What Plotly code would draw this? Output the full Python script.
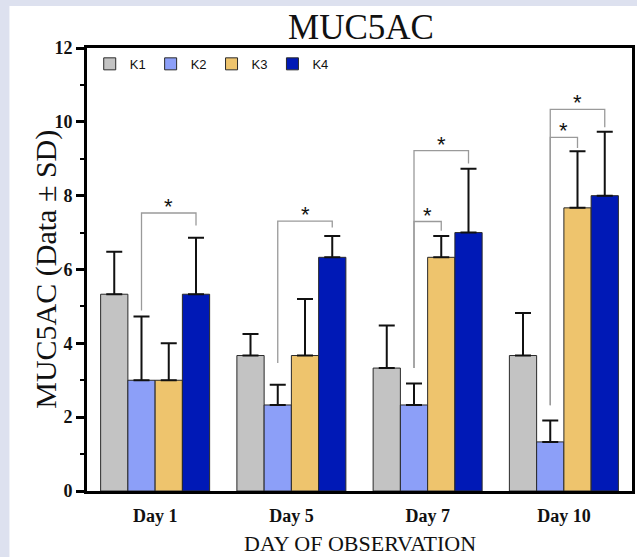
import plotly.graph_objects as go

# ---------------- data ----------------
days = ["Day 1", "Day 5", "Day 7", "Day 10"]
groups = ["K1", "K2", "K3", "K4"]

k1_mean = [5.33, 3.67, 3.33, 3.67]
k1_sd = [1.15, 0.58, 1.15, 1.15]
k2_mean = [3.00, 2.33, 2.33, 1.33]
k2_sd = [1.73, 0.55, 0.58, 0.58]
k3_mean = [3.00, 3.67, 6.33, 7.67]
k3_sd = [1.00, 1.53, 0.58, 1.53]
k4_mean = [5.33, 6.33, 7.00, 8.00]
k4_sd = [1.53, 0.58, 1.73, 1.73]

# significance brackets (day index, from group, to group, bracket height, leg ends)
sig_day = [0, 1, 2, 2, 3, 3]
sig_from = [1, 1, 1, 1, 1, 1]
sig_to = [3, 3, 2, 3, 2, 3]
sig_top = [7.53, 7.31, 7.30, 9.22, 9.58, 10.34]
sig_left_end = [4.89, 3.47, 3.33, 3.33, 2.32, 2.32]
sig_right_end = [7.19, 7.14, 7.05, 8.87, 9.29, 9.85]
sig_label = ["*"] * 6

y_ticks = [0, 2, 4, 6, 8, 10, 12]

colors = ["#c3c3c3", "#8c9ff8", "#eec46d", "#0019b6"]
means = [k1_mean, k2_mean, k3_mean, k4_mean]
sds = [k1_sd, k2_sd, k3_sd, k4_sd]

SERIF = "Liberation Serif, Times New Roman, serif"
SANS = "Liberation Sans, Arial, sans-serif"

x_pos = list(range(len(days)))
BARGAP = 0.2
bar_w = (1 - BARGAP) / len(groups)

fig = go.Figure()
for g, name in enumerate(groups):
    fig.add_trace(go.Bar(
        x=x_pos, y=means[g], name=name,
        marker=dict(color=colors[g], line=dict(color="#2a2a2a", width=1)),
        error_y=dict(type="data", array=sds[g], arrayminus=[0] * len(days),
                     symmetric=False, color="#111111", thickness=2, width=8),
    ))

def offset(gi):
    return (gi - (len(groups) - 1) / 2) * bar_w

bx, by = [], []
for d, f, t, top, le, re, lab in zip(sig_day, sig_from, sig_to, sig_top,
                                     sig_left_end, sig_right_end, sig_label):
    xl = d + offset(f)
    xr = d + offset(t)
    bx += [xl, xl, xr, xr, None]
    by += [le, top, top, re, None]
    fig.add_annotation(x=(xl + xr) / 2, y=top, text=lab, showarrow=False,
                       xref="x", yref="y", yanchor="bottom", yshift=-8,
                       font=dict(family=SANS, size=22, color="#111111"))
fig.add_trace(go.Scatter(x=bx, y=by, mode="lines", showlegend=False,
                         line=dict(color="#9a9a9a", width=1.3), hoverinfo="skip"))

W, H = 637, 557
L, R, T, B = 87, 2, 48, 66
pw, ph = W - L - R, H - T - B
base = T + ph  # pixel row of the x axis

# white panel
fig.add_shape(type="rect", xref="paper", yref="paper", layer="below",
              x0=(9 - L) / pw, x1=(W + 5 - L) / pw,
              y0=-(B + 5) / ph, y1=(base - 6) / ph,
              fillcolor="white", line=dict(width=0))

fig.update_layout(
    width=W, height=H,
    margin=dict(l=L, r=R, t=T, b=B),
    paper_bgcolor="#dde1ef", plot_bgcolor="white",
    barmode="group", bargap=BARGAP, bargroupgap=0,
    title=dict(text="MUC5AC", x=(L + pw / 2) / W, xanchor="center",
               y=1 - 27 / H, yanchor="middle", yref="container",
               font=dict(family=SERIF, size=35, color="#111111")),
    legend=dict(orientation="h", x=0.005, y=0.998, xanchor="left", yanchor="top",
                bgcolor="rgba(0,0,0,0)", font=dict(family=SANS, size=13, color="#111111"),
                itemwidth=30, traceorder="normal"),
    xaxis=dict(range=[-0.5, 3.5], tickvals=x_pos, ticktext=days, showgrid=False,
               zeroline=False, showline=True, linecolor="#000000", linewidth=3,
               mirror=True, ticks="", ticklabelstandoff=6,
               tickfont=dict(family=SERIF, size=18, color="#111111", weight="bold")),
    yaxis=dict(range=[0, 12], tickvals=y_ticks, showgrid=False, zeroline=False,
               showline=True, linecolor="#000000", linewidth=3, mirror=True,
               ticks="outside", ticklen=8, tickwidth=2.5, tickcolor="#000000",
               minor=dict(ticks="outside", ticklen=4, tickwidth=2, dtick=1, tickcolor="#000000"),
               tickfont=dict(family=SERIF, size=18, color="#111111", weight="bold")),
    showlegend=True,
)

fig.add_annotation(text="MUC5AC (Data \u00b1 SD)", xref="paper", yref="paper",
                   x=(45 - L) / pw, y=0.5, textangle=-90, showarrow=False,
                   xanchor="center", yanchor="middle",
                   font=dict(family=SERIF, size=30, color="#111111"))
fig.add_annotation(text="DAY OF OBSERVATION", xref="paper", yref="paper",
                   x=0.5, y=-(543 - base) / ph, showarrow=False,
                   xanchor="center", yanchor="middle",
                   font=dict(family=SERIF, size=22, color="#111111"))

fig.write_html("out.html", config={"displayModeBar": False},
               post_script="document.body.style.margin='0px';document.body.style.overflow='hidden';")
